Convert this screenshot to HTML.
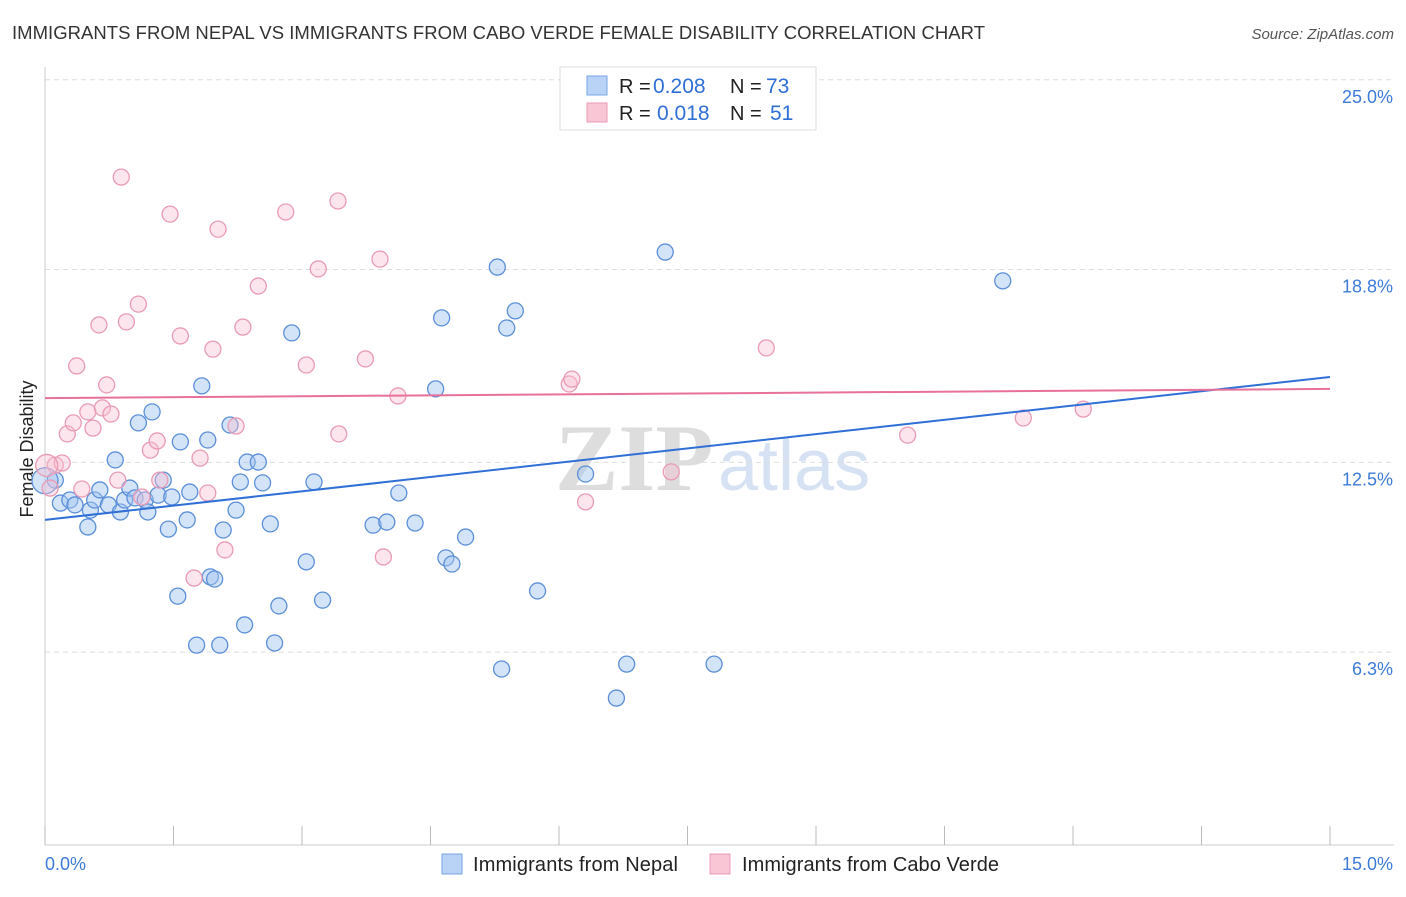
<!DOCTYPE html>
<html><head><meta charset="utf-8"><style>
body{margin:0;background:#fff;font-family:"Liberation Sans",sans-serif}
</style></head><body>
<svg id="c" width="1406" height="892" xmlns="http://www.w3.org/2000/svg">
<text x="12" y="39" font-size="18.5" textLength="973" fill="#333">IMMIGRANTS FROM NEPAL VS IMMIGRANTS FROM CABO VERDE FEMALE DISABILITY CORRELATION CHART</text>
<text x="1394" y="39" font-size="15" fill="#555" font-style="italic" text-anchor="end">Source: ZipAtlas.com</text>
<text x="40" y="456" font-size="18" fill="#222" transform="rotate(-90 33 456)" text-anchor="middle">Female Disability</text>
<text x="555" y="490" font-size="95" fill="#ddd" font-family="Liberation Serif" font-weight="bold">ZIP</text>
<text x="718" y="490" font-size="72" fill="#d6e2f3">atlas</text>
<g id="grid"></g><g id="pts"></g><g id="lines"></g>
<g>
<rect x="560" y="67" width="256" height="63" fill="#fff" stroke="#ddd"/>
<rect x="587" y="76" width="20" height="19" fill="#b8d3f5" stroke="#7aa6e6"/>
<rect x="587" y="103" width="20" height="19" fill="#f9c6d6" stroke="#eb9ab5"/>
<text x="619" y="93" font-size="20" fill="#222">R =</text>
<text x="653" y="93" font-size="21" fill="#2f6fd6">0.208</text>
<text x="730" y="93" font-size="20" fill="#222">N =</text>
<text x="766" y="93" font-size="21" fill="#2f6fd6">73</text>
<text x="619" y="120" font-size="20" fill="#222">R =</text>
<text x="657" y="120" font-size="21" fill="#2f6fd6">0.018</text>
<text x="730" y="120" font-size="20" fill="#222">N =</text>
<text x="770" y="120" font-size="21" fill="#2f6fd6">51</text>
</g>
<g>
<rect x="442" y="854" width="20" height="20" fill="#b8d3f5" stroke="#7aa6e6"/>
<text x="473" y="871" font-size="20" textLength="205" fill="#222">Immigrants from Nepal</text>
<rect x="710" y="854" width="20" height="20" fill="#f9c6d6" stroke="#eb9ab5"/>
<text x="742" y="871" font-size="20" textLength="257" fill="#222">Immigrants from Cabo Verde</text>
</g>
</svg>
<script>
const yTicks=[25.0,18.8,12.5,6.3];
const yTickLabels=["25.0%","18.8%","12.5%","6.3%"];
const xTickVals=[0,1.5,3,4.5,6,7.5,9,10.5,12,13.5,15];
const nepalX=[.12,.18,.29,.35,.50,.53,.58,.64,.74,.82,.88,.93,.99,1.05,1.09,1.17,1.20,1.25,1.32,1.38,1.44,1.48,1.58,1.66,1.69,1.55,1.77,1.83,1.90,1.93,1.98,2.04,2.08,2.16,2.23,2.28,2.33,2.36,2.49,2.54,2.63,2.68,2.73,2.88,3.05,3.14,3.24,3.83,3.99,4.13,4.32,4.56,4.63,4.68,4.75,4.91,5.28,5.33,5.39,5.49,5.75,6.31,6.67,6.79,7.24,7.81,11.18,0.0];
const nepalY=[11.92,11.17,11.27,11.11,10.39,10.94,11.27,11.60,11.11,12.58,10.88,11.27,11.66,11.34,13.79,11.27,10.88,14.15,11.43,11.92,10.32,11.37,13.17,10.62,11.53,8.13,6.53,15.00,13.23,8.76,8.69,6.53,10.29,13.72,10.94,11.86,7.19,12.51,12.51,11.83,10.49,6.60,7.81,16.73,9.25,11.86,8.00,10.45,10.55,11.50,10.52,14.90,17.22,9.38,9.18,10.06,18.88,5.75,16.89,17.45,8.30,12.12,4.80,5.91,19.37,5.91,18.43,11.9];
const caboX=[.06,.12,.20,.26,.33,.37,.43,.50,.56,.63,.67,.72,.77,.85,.89,.95,1.09,1.13,1.23,1.31,1.34,1.46,1.58,1.74,1.81,1.90,1.96,2.02,2.10,2.23,2.31,2.49,2.81,3.05,3.19,3.42,3.43,3.74,3.91,3.95,4.12,6.12,6.15,6.31,7.31,8.42,10.07,11.42,12.12,0.02];
const caboY=[11.66,12.41,12.48,13.43,13.79,15.65,11.63,14.15,13.62,16.99,14.28,15.03,14.08,11.92,21.82,17.09,17.67,11.37,12.90,13.20,11.92,20.61,16.63,8.72,12.64,11.50,16.20,20.12,9.64,13.69,16.92,18.26,20.68,15.68,18.82,21.04,13.43,15.88,19.14,9.41,14.67,15.06,15.22,11.21,12.19,16.24,13.39,13.95,14.24,12.4];
const nepalTrend=[10.62,15.29];
const caboTrend=[14.6,14.9];
const NS="http://www.w3.org/2000/svg";
const X=v=>45+v*(1285/15), Y=v=>845-v*30.61;
function mk(t,a,p){const e=document.createElementNS(NS,t);for(const k in a)e.setAttribute(k,a[k]);p.appendChild(e);return e;}
const g=document.getElementById('grid'),P=document.getElementById('pts'),L=document.getElementById('lines');
yTicks.forEach((v,i)=>{const l=mk('line',{x1:45,x2:1394,y1:Y(v),y2:Y(v),stroke:'#ddd','stroke-dasharray':'5,4'},g);


const t=mk('text',{x:1393,y:Y(v)+23,'font-size':18,fill:'#3d7bd9','text-anchor':'end'},g);t.textContent=yTickLabels[i];

});
const ax=mk('line',{x1:45,x2:1394,y1:845,y2:845,stroke:'#ccc'},g);


const ay=mk('line',{x1:45,x2:45,y1:67,y2:845,stroke:'#ccc'},g);


xTickVals.forEach(v=>{const t=mk('line',{x1:X(v),x2:X(v),y1:826,y2:845,stroke:'#bbb'},g);

});
[["0.0%",45,'start'],["15.0%",1393,'end']].forEach(a=>{const t=mk('text',{x:a[1],y:870,'font-size':18,fill:'#3d7bd9','text-anchor':a[2]},g);t.textContent=a[0];

});
nepalX.forEach((x,i)=>{const c=mk('circle',{cx:X(x),cy:Y(nepalY[i]),r:i==nepalX.length-1?13:8,fill:'rgba(160,195,240,0.45)',stroke:'#5b8fd9','stroke-width':1.3},P);

});
caboX.forEach((x,i)=>{const c=mk('circle',{cx:X(x),cy:Y(caboY[i]),r:i==caboX.length-1?11:8,fill:'rgba(248,190,210,0.4)',stroke:'#e99bb6','stroke-width':1.3},P);

});
const l1=mk('line',{x1:X(0),x2:X(15),y1:Y(nepalTrend[0]),y2:Y(nepalTrend[1]),stroke:'#2f6fd6','stroke-width':2},L);


const l2=mk('line',{x1:X(0),x2:X(15),y1:Y(caboTrend[0]),y2:Y(caboTrend[1]),stroke:'#e8709a','stroke-width':2},L);


</script>
</body></html>
